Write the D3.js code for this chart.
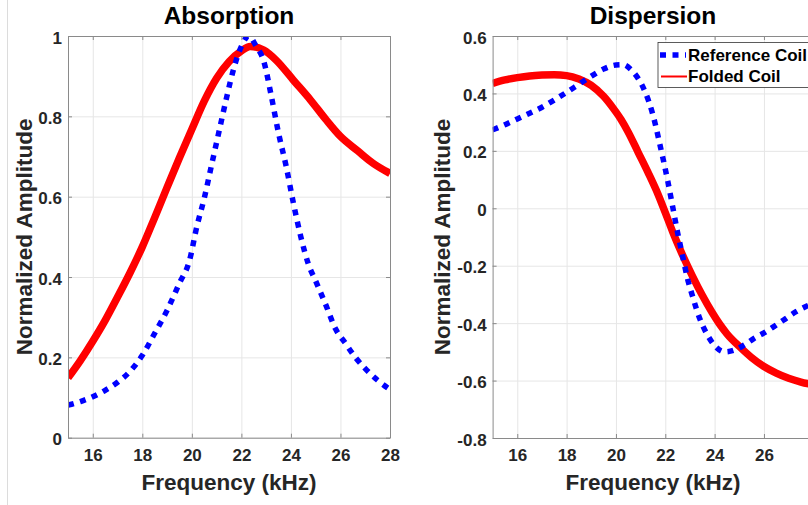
<!DOCTYPE html>
<html>
<head>
<meta charset="utf-8">
<script src="https://cdn.jsdelivr.net/npm/d3@7"></script>
<style>
  html, body { margin: 0; padding: 0; background: #fff; }
  svg { display: block; font-family: "Liberation Sans", Arial, sans-serif; font-weight: bold; }
</style>
</head>
<body>
<div id="chart"></div>
<script>
// values
const freqTicks = [16, 18, 20, 22, 24, 26, 28];
const dispFreqTicks = [16, 18, 20, 22, 24, 26];
const absTicks = [0, 0.2, 0.4, 0.6, 0.8, 1];
const dispTicks = [-0.8, -0.6, -0.4, -0.2, 0, 0.2, 0.4, 0.6];

const seriesNames = ['Reference Coil', 'Folded Coil'];

const absRefFreq = [15, 15.5, 16, 16.5, 17, 17.5, 18, 18.5, 19, 19.5, 19.9, 20.2, 20.5, 20.8, 21.1, 21.4, 21.7, 22, 22.3, 22.6, 22.9, 23.2, 23.5, 23.8, 24.1, 24.4, 24.7, 25, 25.4, 25.8, 26.2, 26.6, 27, 27.5, 28];
const absRefAmp = [0.081, 0.09, 0.102, 0.118, 0.138, 0.165, 0.205, 0.26, 0.317, 0.385, 0.44, 0.525, 0.596, 0.68, 0.763, 0.846, 0.921, 0.974, 1.0, 0.974, 0.938, 0.853, 0.758, 0.678, 0.584, 0.5, 0.433, 0.39, 0.332, 0.271, 0.235, 0.2, 0.172, 0.143, 0.12];

const absFoldFreq = [15, 15.5, 16, 16.5, 17, 17.5, 18, 18.5, 19, 19.5, 20, 20.5, 21, 21.5, 22, 22.35, 22.9, 23.4, 24.1, 24.8, 25.4, 26, 26.7, 27.3, 28];
const absFoldAmp = [0.149, 0.192, 0.24, 0.292, 0.35, 0.41, 0.475, 0.548, 0.623, 0.697, 0.768, 0.838, 0.895, 0.936, 0.963, 0.974, 0.965, 0.94, 0.89, 0.84, 0.793, 0.75, 0.714, 0.684, 0.658];

const dispRefFreq = [15, 15.5, 16, 16.5, 17, 17.5, 18, 18.5, 19, 19.5, 20, 20.3, 20.6, 20.9, 21.2, 21.5, 21.8, 22.1, 22.3, 22.5, 22.7, 22.9, 23.1, 23.4, 23.7, 24, 24.4, 24.8, 25.2, 25.6, 26, 26.4, 26.8, 27.3, 27.7, 28];
const dispRefAmp = [0.273, 0.291, 0.311, 0.331, 0.352, 0.377, 0.404, 0.432, 0.46, 0.485, 0.499, 0.5, 0.484, 0.452, 0.402, 0.325, 0.215, 0.095, 0.005, -0.085, -0.165, -0.245, -0.305, -0.385, -0.44, -0.478, -0.5, -0.494, -0.476, -0.453, -0.434, -0.412, -0.389, -0.36, -0.342, -0.33];

const dispFoldFreq = [15, 15.5, 16, 16.5, 17, 17.5, 18, 18.5, 19, 19.5, 19.9, 20.2, 20.5, 20.9, 21.3, 21.7, 22, 22.3, 22.7, 23.1, 23.5, 23.9, 24.2, 24.5, 25, 25.5, 26, 26.5, 27, 27.5, 28];
const dispFoldAmp = [0.435, 0.447, 0.455, 0.461, 0.464, 0.465, 0.462, 0.45, 0.428, 0.39, 0.347, 0.31, 0.265, 0.195, 0.125, 0.05, -0.015, -0.082, -0.163, -0.236, -0.303, -0.363, -0.403, -0.437, -0.481, -0.52, -0.551, -0.574, -0.592, -0.605, -0.615];

const width = 808, height = 505;
const svg = d3.select('#chart').append('svg').attr('width', width).attr('height', height);

// thin figure border seen on the far left
svg.append('line').attr('x1', 7.5).attr('x2', 7.5).attr('y1', 0).attr('y2', height)
  .attr('stroke', '#dcdcdc').attr('stroke-width', 1);

const zip = (xs, ys) => xs.map((f, i) => ({ f, v: ys[i] }));

function panel(opts) {
  const { id, left, right, top, bottom, yDomain, yTicks, xTicks, title, yLabelX, series } = opts;
  const x = d3.scaleLinear().domain([15, 28]).range([left, right]);
  const y = d3.scaleLinear().domain(yDomain).range([bottom, top]);
  const g = svg.append('g');

  g.append('clipPath').attr('id', id).append('rect')
    .attr('x', left).attr('y', top).attr('width', right - left).attr('height', bottom - top);

  // grid
  g.append('g').attr('transform', `translate(0,${bottom})`)
    .call(d3.axisBottom(x).tickValues(xTicks).tickSize(-(bottom - top)).tickFormat(''))
    .call(s => s.select('.domain').remove())
    .selectAll('line').attr('stroke', '#e6e6e6');
  g.append('g').attr('transform', `translate(${left},0)`)
    .call(d3.axisLeft(y).tickValues(yTicks).tickSize(-(right - left)).tickFormat(''))
    .call(s => s.select('.domain').remove())
    .selectAll('line').attr('stroke', '#e6e6e6');

  // curves
  const line = d3.line().x(d => x(d.f)).y(d => y(d.v)).curve(d3.curveMonotoneX);
  const plot = g.append('g').attr('clip-path', `url(#${id})`);
  plot.append('path').datum(series.fold)
    .attr('d', line).attr('fill', 'none').attr('stroke', '#ff0000')
    .attr('stroke-width', 7.5).attr('stroke-linejoin', 'round');
  plot.append('path').datum(series.ref)
    .attr('d', line).attr('fill', 'none').attr('stroke', '#0000ff')
    .attr('stroke-width', 5.5).attr('stroke-dasharray', '6,6.5');

  // axes, ticks pointing inwards on all four sides
  const fmt = d => d3.format('~g')(d).replace('\u2212', '-');
  const bx = g.append('g').attr('transform', `translate(0,${bottom})`)
    .call(d3.axisBottom(x).tickValues(xTicks).tickSizeInner(-4).tickSizeOuter(0).tickPadding(11).tickFormat(fmt));
  const ly = g.append('g').attr('transform', `translate(${left},0)`)
    .call(d3.axisLeft(y).tickValues(yTicks).tickSizeInner(-4).tickSizeOuter(0).tickPadding(6).tickFormat(fmt));
  const tx = g.append('g').attr('transform', `translate(0,${top})`)
    .call(d3.axisTop(x).tickValues(xTicks).tickSizeInner(-4).tickSizeOuter(0).tickFormat(''));
  const ry = g.append('g').attr('transform', `translate(${right},0)`)
    .call(d3.axisRight(y).tickValues(yTicks).tickSizeInner(-4).tickSizeOuter(0).tickFormat(''));
  [bx, ly, tx, ry].forEach(a => {
    a.select('.domain').attr('stroke', '#8a8a8a');
    a.selectAll('line').attr('stroke', '#8a8a8a');
    a.selectAll('text').attr('fill', '#262626').style('font-size', '17px').style('font-weight', 'bold')
      .style('font-family', '"Liberation Sans", Arial, sans-serif');
  });
  ly.selectAll('text').attr('dy', '0.42em');

  const cx = (left + right) / 2, cy = (top + bottom) / 2;
  g.append('text').attr('x', cx).attr('y', 24).attr('text-anchor', 'middle')
    .style('font-size', '24.5px').attr('fill', '#000').text(title);
  g.append('text').attr('x', cx).attr('y', 490).attr('text-anchor', 'middle')
    .style('font-size', '22.5px').attr('fill', '#262626').text('Frequency (kHz)');
  g.append('text').attr('transform', `translate(${yLabelX},${cy}) rotate(-90)`)
    .attr('text-anchor', 'middle').style('font-size', '22.5px').attr('fill', '#262626')
    .text('Normalized Amplitude');
  return { x, y };
}

panel({
  id: 'clipAbs', left: 68, right: 390, top: 36, bottom: 437.7, yLabelX: 31.5,
  yDomain: [0, 1], yTicks: absTicks, xTicks: freqTicks, title: 'Absorption',
  series: { ref: zip(absRefFreq, absRefAmp), fold: zip(absFoldFreq, absFoldAmp) }
});

panel({
  id: 'clipDisp', left: 492.6, right: 813.3, top: 36, bottom: 438, yLabelX: 449.5,
  yDomain: [-0.8, 0.6], yTicks: dispTicks, xTicks: dispFreqTicks, title: 'Dispersion',
  series: { ref: zip(dispRefFreq, dispRefAmp), fold: zip(dispFoldFreq, dispFoldAmp) }
});

// legend
const legend = svg.append('g').attr('transform', 'translate(658,42.5)');
legend.append('rect').attr('width', 160).attr('height', 45)
  .attr('fill', '#fff').attr('stroke', '#333').attr('stroke-width', 0.8);
legend.append('line').attr('x1', 2).attr('x2', 28).attr('y1', 12.5).attr('y2', 12.5)
  .attr('stroke', '#0000ff').attr('stroke-width', 5.5).attr('stroke-dasharray', '6,6.5');
legend.append('line').attr('x1', 3).attr('x2', 29).attr('y1', 34).attr('y2', 34)
  .attr('stroke', '#ff0000').attr('stroke-width', 2);
legend.selectAll('text.lab').data(seriesNames).enter().append('text')
  .attr('class', 'lab').attr('x', 30).attr('y', (d, i) => 18.5 + i * 20.5)
  .style('font-size', '17px').attr('fill', '#000').text(d => d);
</script>
</body>
</html>
